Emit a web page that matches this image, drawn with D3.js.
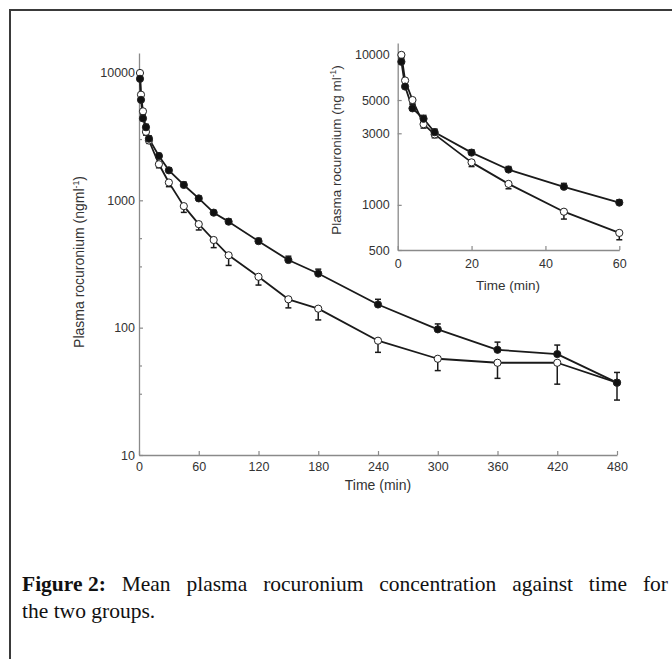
<!DOCTYPE html>
<html>
<head>
<meta charset="utf-8">
<script src="https://cdn.jsdelivr.net/npm/d3@7"></script>
<style>
  html, body { margin: 0; padding: 0; background: #fff; }
  svg { display: block; }
</style>
</head>
<body>
<svg id="chart" width="672" height="659"></svg>
<script>
// ---- Data ----
const timesMain = [1, 2, 4, 7, 10, 20, 30, 45, 60, 75, 90, 120, 150, 180, 240, 300, 360, 420, 480];
const groupSolid = [9000, 6150, 4400, 3750, 3050, 2230, 1720, 1320, 1035, 800, 680, 478, 340, 266, 152, 97, 67, 62, 37];
const groupOpen  = [10000, 6750, 5000, 3450, 2950, 1920, 1380, 900, 650, 488, 370, 251, 167, 141, 79, 57, 53, 53, 37];
const errSolid = [600, 400, 300, 200, 150, 100, 80, 70, 45, 33, 33, 24, 24, 22, 15, 10, 10, 11, 7.5];
const errOpen  = [500, 400, 300, 200, 150, 120, 100, 96, 65, 63, 62, 35, 24, 26, 15, 11, 13, 17, 10];

const timesInset = [1, 2, 4, 7, 10, 20, 30, 45, 60];

const mainXTicks = [0, 60, 120, 180, 240, 300, 360, 420, 480];
const mainYTicks = [10, 100, 1000, 10000];
const mainYMinor = [30, 50, 300, 500, 3000, 5000];
const insetXTicks = [0, 20, 40, 60];
const insetYTicks = [500, 1000, 3000, 5000, 10000];

const captionBold = "Figure 2:";
const captionRest = "Mean plasma rocuronium concentration against time for";
const captionLine2 = "the two groups.";

// ---- Drawing ----
const svg = d3.select("#chart");
const tickFont = "'Liberation Sans', Arial, sans-serif";
const serifFont = "'Liberation Serif', 'Times New Roman', serif";
const axisColor = "#8a8a8a";
const textColor = "#333";
const lineColor = "#1a1a1a";

// Frame
svg.append("path")
  .attr("d", "M10,659 L10,10 L672,10")
  .attr("fill", "none").attr("stroke", "#3a3a3a").attr("stroke-width", 2);

function drawPanel(cfg) {
  const g = svg.append("g");
  const x = d3.scaleLinear().domain(cfg.xDomain).range(cfg.xRange);
  const y = d3.scaleLog().domain(cfg.yDomain).range(cfg.yRange);

  const xAxis = d3.axisBottom(x).tickValues(cfg.xTicks).tickFormat(d3.format("d"))
    .tickSize(-4).tickSizeOuter(0).tickPadding(cfg.xPad);
  const yAxis = d3.axisLeft(y).tickValues(cfg.yTicks).tickFormat(d3.format("d"))
    .tickSize(cfg.yTickSize).tickSizeOuter(0).tickPadding(cfg.yPad);

  const gx = g.append("g").attr("transform", `translate(0,${cfg.yRange[0]})`).call(xAxis);
  const gy = g.append("g").attr("transform", `translate(${cfg.xRange[0]},0)`).call(yAxis);
  [gx, gy].forEach(a => {
    a.select(".domain").attr("stroke", axisColor).attr("stroke-width", 1.3);
    a.selectAll(".tick line").attr("stroke", axisColor).attr("stroke-width", 1.2);
    a.selectAll(".tick text").attr("fill", textColor)
      .style("font-family", tickFont).style("font-size", cfg.tickFs + "px");
  });
  if (cfg.yMinor) {
    g.append("g").selectAll("line").data(cfg.yMinor).join("line")
      .attr("x1", cfg.xRange[0]).attr("x2", cfg.xRange[0] + 3)
      .attr("y1", d => y(d)).attr("y2", d => y(d))
      .attr("stroke", axisColor).attr("stroke-width", 1.2);
  }

  g.append("text")
    .attr("x", cfg.xTitle[0]).attr("y", cfg.xTitle[1])
    .attr("text-anchor", "middle").attr("fill", textColor)
    .style("font-family", tickFont).style("font-size", cfg.titleFs + "px")
    .text("Time (min)");
  const yt = g.append("text")
    .attr("transform", `translate(${cfg.yTitle[0]},${cfg.yTitle[1]}) rotate(-90)`)
    .attr("text-anchor", "middle").attr("fill", textColor)
    .style("font-family", tickFont).style("font-size", cfg.titleFs + "px");
  yt.append("tspan").text("Plasma rocuronium (" + cfg.unit);
  yt.append("tspan").attr("dy", -5).style("font-size", (cfg.titleFs * 0.62) + "px").text("-1");
  yt.append("tspan").attr("dy", 5).text(")");

  const n = cfg.times.length;
  const idx = d3.range(n);

  const series = [
    { vals: groupOpen, err: errOpen, dir: 1, fill: "#fff" },
    { vals: groupSolid, err: errSolid, dir: -1, fill: "#111" }
  ];

  series.forEach(s => {
    g.append("path")
      .datum(idx)
      .attr("fill", "none").attr("stroke", lineColor).attr("stroke-width", 1.8)
      .attr("stroke-linejoin", "round")
      .attr("d", d3.line().x(i => x(cfg.times[i])).y(i => y(s.vals[i])));
  });

  series.forEach(s => {
    const eg = g.append("g").attr("stroke", lineColor).attr("stroke-width", 1.5);
    idx.forEach(i => {
      const v = s.vals[i];
      const end = s.dir > 0 ? v - s.err[i] : v + s.err[i];
      const cx = x(cfg.times[i]);
      eg.append("line").attr("x1", cx).attr("x2", cx).attr("y1", y(v)).attr("y2", y(end));
      eg.append("line").attr("x1", cx - 3).attr("x2", cx + 3).attr("y1", y(end)).attr("y2", y(end));
    });
  });

  series.forEach(s => {
    g.append("g").selectAll("circle").data(idx).join("circle")
      .attr("cx", i => x(cfg.times[i])).attr("cy", i => y(s.vals[i]))
      .attr("r", 3.6).attr("fill", s.fill).attr("stroke", "#222").attr("stroke-width", 1);
  });
}

drawPanel({
  times: timesMain,
  xDomain: [0, 480], xRange: [139, 617],
  yDomain: [10, 14350], yRange: [455, 53],
  xTicks: mainXTicks, yTicks: mainYTicks, yMinor: mainYMinor,
  xPad: 7, yPad: 4, yTickSize: -4, tickFs: 12.5, titleFs: 14,
  xTitle: [378, 490], yTitle: [84, 262], unit: "ngml"
});

drawPanel({
  times: timesInset,
  xDomain: [0, 60], xRange: [397.7, 619.3],
  yDomain: [500, 12000], yRange: [250, 43],
  xTicks: insetXTicks, yTicks: insetYTicks, yMinor: null,
  xPad: 9, yPad: 8, yTickSize: -4, tickFs: 12.5, titleFs: 13.5,
  xTitle: [508, 290], yTitle: [341, 150], unit: "ng ml"
});

// Caption line 1: justified between x0 and x1 by spreading words
const capFs = 21.5, capX0 = 22, capX1 = 668, capY1 = 591, capY2 = 618;
const words = [{ t: captionBold, bold: true }].concat(captionRest.split(" ").map(w => ({ t: w, bold: false })));
const wEls = words.map(w => svg.append("text")
  .attr("y", capY1).attr("fill", "#111")
  .style("font-family", serifFont).style("font-size", capFs + "px")
  .style("font-weight", w.bold ? "bold" : "normal")
  .text(w.t));
const widths = wEls.map(e => e.node().getComputedTextLength());
const totalW = d3.sum(widths);
const gap = (capX1 - capX0 - totalW) / (words.length - 1);
let cx = capX0;
wEls.forEach((e, i) => { e.attr("x", cx); cx += widths[i] + gap; });

svg.append("text")
  .attr("x", capX0).attr("y", capY2)
  .attr("fill", "#111")
  .style("font-family", serifFont).style("font-size", capFs + "px")
  .text(captionLine2);
</script>
</body>
</html>
